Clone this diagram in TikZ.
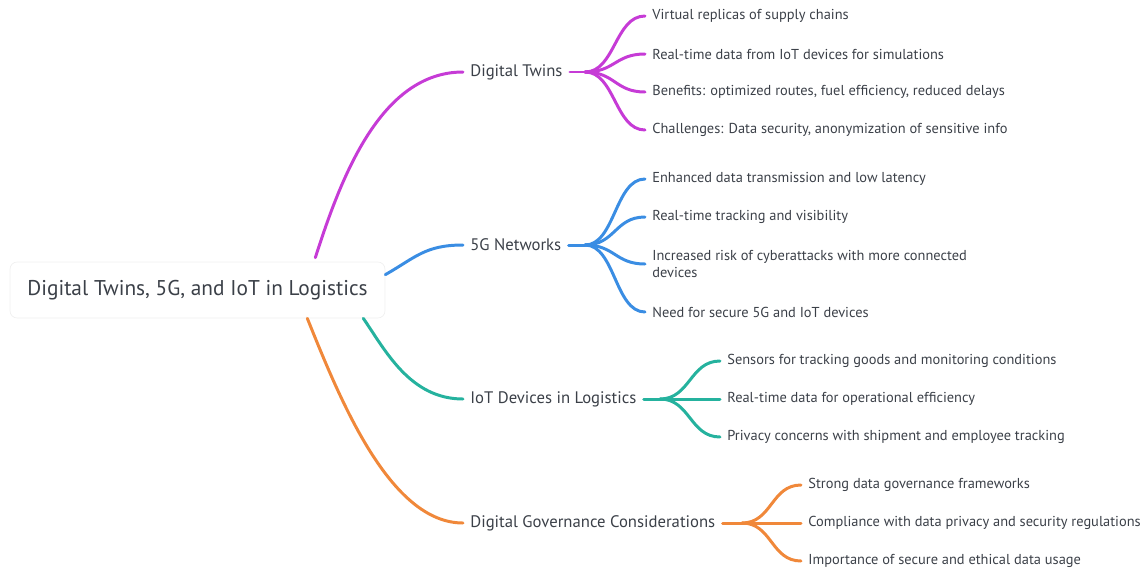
\documentclass[tikz,border=0pt]{standalone}
\usepackage{fontspec}
\setsansfont{PT Sans}
\usetikzlibrary{calc}
\definecolor{inkgray}{HTML}{3B4048}
\definecolor{twinpurple}{HTML}{C63BD6}
\definecolor{netblue}{HTML}{3A8DE3}
\definecolor{iotteal}{HTML}{25B29E}
\definecolor{govorange}{HTML}{F0883A}

\begin{document}
\begin{tikzpicture}[
    x=0.02cm,y=-0.02cm,
    font=\sffamily,text=inkgray,
    root/.style={draw=black!6,fill=white,rounded corners=4pt,minimum width=7.5cm,minimum height=1.12cm,
      font=\sffamily\fontsize{12.15}{14}\selectfont},
    topic/.style={anchor=west,inner xsep=4pt,font=\sffamily\fontsize{9.5}{11}\selectfont},
    leaf/.style={anchor=west,align=left,inner xsep=4pt,font=\sffamily\fontsize{8.2}{10.2}\selectfont},
    branch/.style={line width=1.7pt,line cap=round}
  ]
    \useasboundingbox (0,0) rectangle (1146,569);
    \node[root] (root) at (197.5,290) {Digital Twins, 5G, and IoT in Logistics};

    \node[topic] (twins) at (463,72) {Digital Twins};
    \node[topic] (net) at (463,245) {5G Networks};
    \node[topic] (iot) at (463,399) {IoT Devices in Logistics};
    \node[topic] (gov) at (463,523) {Digital Governance Considerations};

    % main branches
    \draw[branch,twinpurple] ($(root.north east)+(-70,-4)$) .. controls +(25,-78) and +(-83,0) .. (twins.west);
    \draw[branch,netblue] ($(root.north east)+(0,13)$) .. controls +(30,-17) and +(-38,0) .. (net.west);
    \draw[branch,iotteal] ($(root.south east)+(-22,0)$) .. controls +(22,32) and +(-53,0) .. (iot.west);
    \draw[branch,govorange] ($(root.south east)+(-78,0)$) .. controls +(33,82) and +(-73,0) .. (gov.west);

    % Digital Twins
    \coordinate (twinsj) at (585,72);
    \node[leaf] (twins1) at (645,16) {Virtual replicas of supply chains};
    \node[leaf] (twins2) at (645,54) {Real-time data from IoT devices for simulations};
    \node[leaf] (twins3) at (645,92) {Benefits: optimized routes, fuel efficiency, reduced delays};
    \node[leaf] (twins4) at (645,130) {Challenges: Data security, anonymization of sensitive info};
    \draw[branch,twinpurple] (twins.east) -- (twinsj);
    \draw[branch,twinpurple] (twinsj) .. controls +(30,0) and +(-30,0) .. (twins1.west);
    \draw[branch,twinpurple] (twinsj) .. controls +(30,0) and +(-30,0) .. (twins2.west);
    \draw[branch,twinpurple] (twinsj) .. controls +(30,0) and +(-30,0) .. (twins3.west);
    \draw[branch,twinpurple] (twinsj) .. controls +(30,0) and +(-30,0) .. (twins4.west);

    % 5G Networks
    \coordinate (netj) at (585,245);
    \node[leaf] (net1) at (645,179) {Enhanced data transmission and low latency};
    \node[leaf] (net2) at (645,217) {Real-time tracking and visibility};
    \node[leaf] (net3) at (645,264) {Increased risk of cyberattacks with more connected\\devices};
    \node[leaf] (net4) at (645,312) {Need for secure 5G and IoT devices};
    \draw[branch,netblue] (net.east) -- (netj);
    \draw[branch,netblue] (netj) .. controls +(30,0) and +(-30,0) .. (net1.west);
    \draw[branch,netblue] (netj) .. controls +(30,0) and +(-30,0) .. (net2.west);
    \draw[branch,netblue] (netj) .. controls +(30,0) and +(-30,0) .. (net3.west);
    \draw[branch,netblue] (netj) .. controls +(30,0) and +(-30,0) .. (net4.west);

    % IoT Devices
    \coordinate (iotj) at (660,399);
    \node[leaf] (iot1) at (720,361) {Sensors for tracking goods and monitoring conditions};
    \node[leaf] (iot2) at (720,399) {Real-time data for operational efficiency};
    \node[leaf] (iot3) at (720,437) {Privacy concerns with shipment and employee tracking};
    \draw[branch,iotteal] (iot.east) -- (iotj);
    \draw[branch,iotteal] (iotj) .. controls +(30,0) and +(-30,0) .. (iot1.west);
    \draw[branch,iotteal] (iotj) -- (iot2.west);
    \draw[branch,iotteal] (iotj) .. controls +(30,0) and +(-30,0) .. (iot3.west);

    % Governance
    \coordinate (govj) at (742,523);
    \node[leaf] (gov1) at (801,485) {Strong data governance frameworks};
    \node[leaf] (gov2) at (801,523) {Compliance with data privacy and security regulations};
    \node[leaf] (gov3) at (801,561) {Importance of secure and ethical data usage};
    \draw[branch,govorange] (gov.east) -- (govj);
    \draw[branch,govorange] (govj) .. controls +(30,0) and +(-30,0) .. (gov1.west);
    \draw[branch,govorange] (govj) -- (gov2.west);
    \draw[branch,govorange] (govj) .. controls +(30,0) and +(-30,0) .. (gov3.west);
\end{tikzpicture}
\end{document}
